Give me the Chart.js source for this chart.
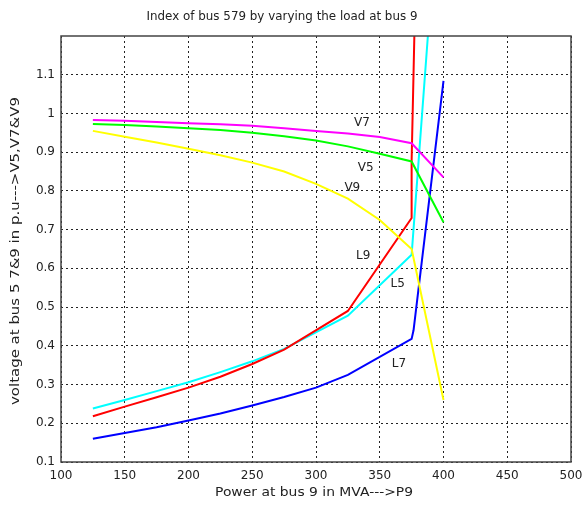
<!DOCTYPE html>
<html>
<head>
<meta charset="utf-8">
<script src="https://cdn.jsdelivr.net/npm/chart.js@4/dist/chart.umd.min.js"></script>
<style>
  html, body { margin: 0; padding: 0; background: #fff; }
  #wrap { width: 582px; height: 506px; }
</style>
</head>
<body>
<div id="wrap"><canvas id="myChart" width="582" height="506"></canvas></div>
<script>
// power at bus 9 (MVA) for the voltage curves
var powerV = [125, 150, 175, 200, 225, 250, 275, 300, 325, 350, 375, 400];
var voltageV7 = [0.983, 0.981, 0.978, 0.975, 0.972, 0.968, 0.962, 0.955, 0.948, 0.939, 0.923, 0.835];
var voltageV5 = [0.973, 0.970, 0.966, 0.962, 0.957, 0.950, 0.941, 0.930, 0.915, 0.896, 0.876, 0.719];
var voltageV9 = [0.955, 0.940, 0.925, 0.909, 0.892, 0.873, 0.850, 0.818, 0.780, 0.725, 0.650, 0.260];

// index curves (L9, L5, L7)
var powerL9 = [125, 150, 175, 200, 225, 250, 275, 325, 375, 375, 377.8];
var indexL9 = [0.218, 0.243, 0.267, 0.292, 0.320, 0.353, 0.390, 0.490, 0.730, 0.877, 1.300];
var powerL5 = [125, 150, 175, 200, 225, 250, 275, 325, 375, 390];
var indexL5 = [0.238, 0.260, 0.283, 0.306, 0.332, 0.360, 0.392, 0.478, 0.635, 1.300];
var powerL7 = [125, 150, 175, 200, 225, 250, 275, 300, 325, 375, 376.5, 400];
var indexL7 = [0.160, 0.175, 0.190, 0.207, 0.225, 0.246, 0.268, 0.292, 0.325, 0.418, 0.440, 1.084];

// tick values
var xTicks = [100, 150, 200, 250, 300, 350, 400, 450, 500];
var yTicks = [0.1, 0.2, 0.3, 0.4, 0.5, 0.6, 0.7, 0.8, 0.9, 1.0, 1.1];

// text labels written next to the curves
var curveNames = ["V7", "V5", "V9", "L9", "L5", "L7"];
var curveNameX = [336, 339, 328.5, 337, 364, 365];
var curveNameY = [0.976, 0.86, 0.809, 0.633, 0.56, 0.354];

var titleText = "Index of bus 579 by varying the load at bus 9";
var xTitle = "Power at bus 9 in MVA--->P9";
var yTitle = "voltage at bus 5 7&9 in p.u--->V5,V7&V9";

var FONT = "DejaVu Sans, Verdana, sans-serif";

function toPoints(xs, ys) {
    var pts = [];
    for (var i = 0; i < xs.length; i++) {
        pts.push({ x: xs[i], y: ys[i] });
    }
    return pts;
}

function makeSet(label, xs, ys, color) {
    return {
        label: label,
        data: toPoints(xs, ys),
        borderColor: color,
        backgroundColor: color,
        borderWidth: 2,
        pointRadius: 0,
        tension: 0,
        fill: false,
        clip: 0
    };
}

// draw text centred at (cx, cy), stretched to a given width
function fitText(ctx, text, cx, cy, width, angle) {
    var w = ctx.measureText(text).width;
    ctx.save();
    ctx.translate(cx, cy);
    if (angle) ctx.rotate(angle);
    ctx.scale(width / w, 1);
    ctx.fillText(text, 0, 0);
    ctx.restore();
}

// title, axis titles, curve names and the box frame
var textPlugin = {
    id: "textPlugin",
    afterDraw: function(chart) {
        var ctx = chart.ctx;
        var area = chart.chartArea;
        var xs = chart.scales.x;
        var ys = chart.scales.y;

        ctx.save();
        // frame
        ctx.strokeStyle = "#444";
        ctx.lineWidth = 1.5;
        ctx.setLineDash([]);
        ctx.strokeRect(area.left, area.top, area.right - area.left, area.bottom - area.top);

        ctx.fillStyle = "#222";
        ctx.textAlign = "center";
        ctx.textBaseline = "middle";
        ctx.font = "12px " + FONT;
        fitText(ctx, titleText, 282, 17, 271, 0);
        ctx.font = "13px " + FONT;
        fitText(ctx, xTitle, 314, 493, 198, 0);
        fitText(ctx, yTitle, 16, 251, 308, -Math.PI / 2);

        ctx.font = "12px " + FONT;
        for (var i = 0; i < curveNames.length; i++) {
            ctx.fillText(curveNames[i], xs.getPixelForValue(curveNameX[i]), ys.getPixelForValue(curveNameY[i]));
        }
        ctx.restore();
    }
};

var ctx = document.getElementById("myChart").getContext("2d");
var myChart = new Chart(ctx, {
    type: "line",
    data: {
        datasets: [
            makeSet("V7", powerV, voltageV7, "#ff00ff"),
            makeSet("V5", powerV, voltageV5, "#00ff00"),
            makeSet("V9", powerV, voltageV9, "#ffff00"),
            makeSet("L9", powerL9, indexL9, "#ff0000"),
            makeSet("L5", powerL5, indexL5, "#00ffff"),
            makeSet("L7", powerL7, indexL7, "#0000ff")
        ]
    },
    options: {
        responsive: false,
        animation: false,
        events: [],
        layout: { padding: { left: 0, top: 36, right: 11, bottom: 0 } },
        plugins: {
            legend: { display: false },
            title: { display: false },
            tooltip: { enabled: false }
        },
        scales: {
            x: {
                type: "linear",
                min: 100,
                max: 500,
                afterBuildTicks: function(axis) {
                    axis.ticks = xTicks.map(function(v) { return { value: v }; });
                },
                afterFit: function(axis) {
                    axis.height = 44;
                    axis.paddingLeft = 0;
                    axis.paddingRight = 0;
                },
                grid: { color: "#222", lineWidth: 1, drawTicks: false },
                border: { display: false, dash: [2, 3] },
                ticks: {
                    color: "#222",
                    padding: 7,
                    maxRotation: 0,
                    font: { family: FONT, size: 12 },
                    callback: function(v) { return String(v); }
                }
            },
            y: {
                type: "linear",
                min: 0.1,
                max: 1.2,
                afterBuildTicks: function(axis) {
                    axis.ticks = yTicks.map(function(v) { return { value: v }; });
                },
                afterFit: function(axis) {
                    axis.width = 61;
                    axis.paddingTop = 0;
                    axis.paddingBottom = 0;
                },
                grid: { color: "#222", lineWidth: 1, drawTicks: false },
                border: { display: false, dash: [2, 3] },
                ticks: {
                    color: "#222",
                    padding: 6,
                    font: { family: FONT, size: 12 },
                    callback: function(v) {
                        return (Math.round(v * 10) / 10).toString();
                    }
                }
            }
        }
    },
    plugins: [textPlugin]
});
</script>
</body>
</html>
